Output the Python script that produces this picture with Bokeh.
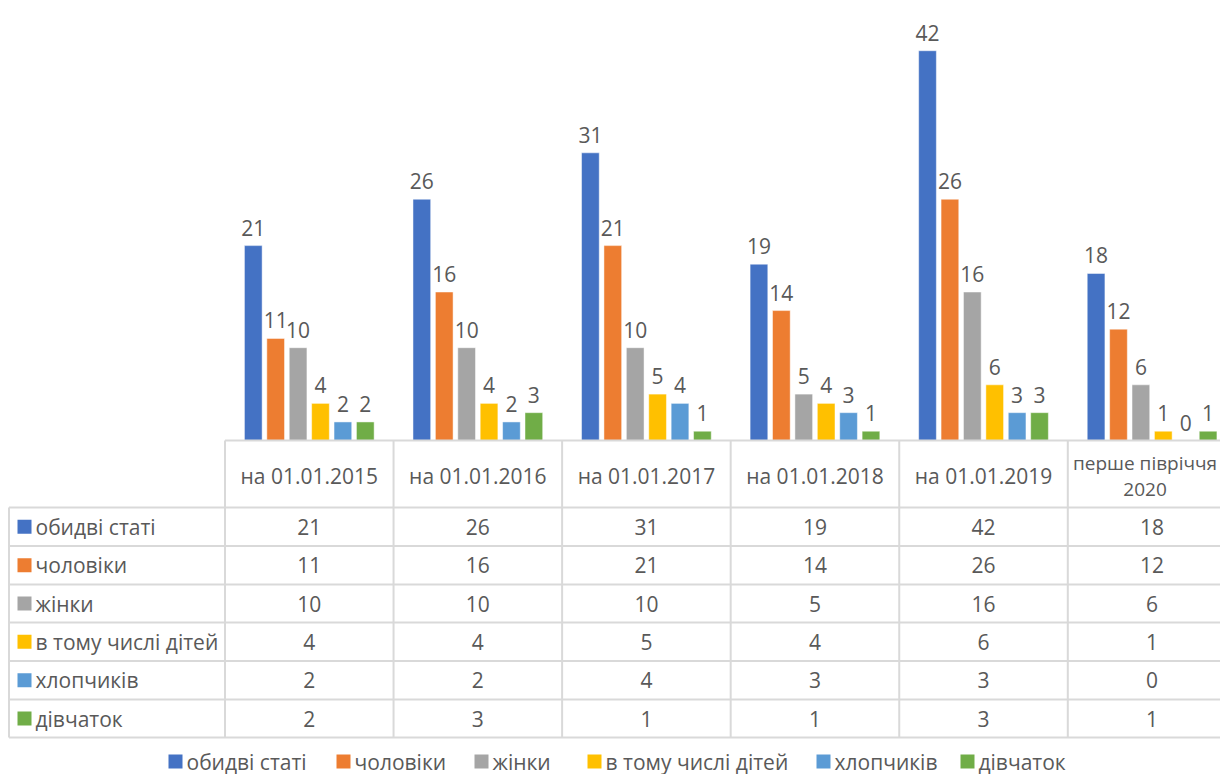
from bokeh.plotting import figure
from bokeh.models import Range1d, ColumnDataSource
from bokeh.core.properties import value
from bokeh.embed import file_html
from bokeh.resources import INLINE

# ---- data ----
categories = ["на 01.01.2015", "на 01.01.2016", "на 01.01.2017",
              "на 01.01.2018", "на 01.01.2019", "перше півріччя\n2020"]
series_names = ["обидві статі", "чоловіки", "жінки",
                "в тому числі дітей", "хлопчиків", "дівчаток"]
both_sexes = [21, 26, 31, 19, 42, 18]
men = [11, 16, 21, 14, 26, 12]
women = [10, 10, 10, 5, 16, 6]
children = [4, 4, 5, 4, 6, 1]
boys = [2, 2, 4, 3, 3, 0]
girls = [2, 3, 1, 1, 3, 1]
series_values = [both_sexes, men, women, children, boys, girls]
colors = ["#4472C4", "#ED7D31", "#A5A5A5", "#FFC000", "#5B9BD5", "#70AD47"]

# ---- layout helpers (picture pixels -> data coords) ----
W, H = 1220, 774
X0_PX = 224.5          # x of first category boundary
CAT_PX = 168.56        # px per category
BASE_PX = 440.0        # y of bar baseline
K = 9.28               # px per value unit

def dx(px):
    return (px - X0_PX) / CAT_PX

def dy(py):
    return (BASE_PX - py) / K

FONT = value("Open Sans")
FS = "21px"
TXT = "#595959"
GRID = "#D9D9D9"

p = figure(width=W, height=H, output_backend="svg", toolbar_location=None,
           x_range=Range1d(dx(0), dx(W)),
           y_range=Range1d(dy(H), dy(0)),
           min_border=0)
p.axis.visible = False
p.grid.visible = False
p.outline_line_color = None
p.background_fill_color = "white"
p.border_fill_color = "white"

n_s = len(series_names)
pitch = 0.1329
bw = 0.105

# ---- bars + labels ----
for j, (name, vals, col) in enumerate(zip(series_names, series_values, colors)):
    xs = [i + 0.5 + (j - (n_s - 1) / 2) * pitch for i in range(len(categories))]
    src = ColumnDataSource(dict(x=xs, top=vals, lab=[str(v) for v in vals],
                                ly=[v + 18.0 / K for v in vals]))
    p.vbar(x="x", top="top", bottom=0, width=bw, source=src,
           fill_color=col, line_color="white", line_alpha=0.6, line_width=0.8)
    p.text(x="x", y="ly", text="lab", source=src, text_font=FONT,
           text_font_size=FS, text_color=TXT, text_align="center",
           text_baseline="alphabetic")

# ---- data table ----
row_lines = [507, 545.5, 584, 622, 660.5, 699, 737]
right = dx(W + 20)
p.segment(x0=[0], y0=[dy(BASE_PX)], x1=[right], y1=[dy(BASE_PX)],
          line_color=GRID, line_width=2)
p.segment(x0=[dx(8.5)] * len(row_lines), y0=[dy(r) for r in row_lines],
          x1=[right] * len(row_lines), y1=[dy(r) for r in row_lines],
          line_color=GRID, line_width=2)
vx = list(range(len(categories) + 1))
p.segment(x0=vx, y0=[dy(BASE_PX)] * len(vx), x1=vx, y1=[dy(737)] * len(vx),
          line_color=GRID, line_width=2)
p.segment(x0=[dx(8.5)], y0=[dy(507)], x1=[dx(8.5)], y1=[dy(737)],
          line_color=GRID, line_width=2)

# header labels (multi-line split manually)
for i, cat in enumerate(categories):
    lines = cat.split("\n")
    n = len(lines)
    last = (i == len(categories) - 1)
    # last column is clipped by the picture edge: nudge left and shrink a bit
    cx = i + 0.5 - (7.0 / CAT_PX if last else 0.0)
    fs = "19px" if last else FS
    p.text(x=[cx] * n,
           y=[dy(475.5 + (k - (n - 1) / 2) * 27) for k in range(n)],
           text=lines, text_font=FONT, text_font_size=fs,
           text_color=TXT, text_align="center", text_baseline="middle")

# rows
row_centers = [(row_lines[r] + row_lines[r + 1]) / 2 for r in range(n_s)]
for r, (name, vals, col) in enumerate(zip(series_names, series_values, colors)):
    yc = dy(row_centers[r])
    p.text(x=[i + 0.5 for i in range(len(vals))], y=[yc] * len(vals),
           text=[str(v) for v in vals], text_font=FONT, text_font_size=FS,
           text_color=TXT, text_align="center", text_baseline="middle")
    p.scatter(x=[dx(24)], y=[yc], marker="square", size=14,
              fill_color=col, line_color=None)
    p.text(x=[dx(35)], y=[yc], text=[name], text_font=FONT, text_font_size=FS,
           text_color=TXT, text_align="left", text_baseline="middle")

# ---- legend ----
leg_px = [175, 343, 481, 594, 823, 967]
leg_y = dy(761)
for name, col, lx in zip(series_names, colors, leg_px):
    p.scatter(x=[dx(lx)], y=[leg_y], marker="square", size=14,
              fill_color=col, line_color=None)
    p.text(x=[dx(lx + 11)], y=[leg_y], text=[name], text_font=FONT,
           text_font_size=FS, text_color=TXT, text_align="left",
           text_baseline="middle")

open("out.html", "w").write(file_html(p, INLINE))
